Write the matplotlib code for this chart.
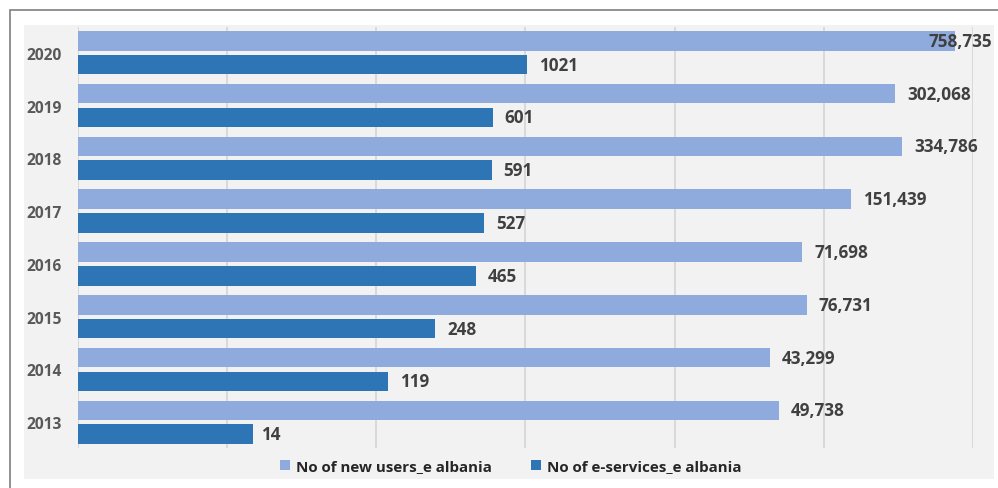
"""Horizontal grouped bar chart: e-Albania users and e-services per year (log scale)."""

import matplotlib.pyplot as plt
from matplotlib.patches import Rectangle
import numpy as np

years = ['2013', '2014', '2015', '2016', '2017', '2018', '2019', '2020']
new_users = [49738, 43299, 76731, 71698, 151439, 334786, 302068, 758735]
e_services = [14, 119, 248, 465, 527, 591, 601, 1021]

light_blue = '#8faadc'
dark_blue = '#2e75b6'
font = 'Open Sans'

W, H = 998, 489
fig = plt.figure(figsize=(W / 100, H / 100), dpi=100)

# outer frame and grey chart area (kept behind the axes)
fig.patches.append(Rectangle((10 / W, -0.1), 1, 1.1 - 11 / H, transform=fig.transFigure,
                             fill=False, edgecolor='#7f7f7f', linewidth=1.2,
                             zorder=-2))
fig.patches.append(Rectangle((24 / W, 1 - 480 / H), (994 - 24) / W, (480 - 26) / H,
                             transform=fig.transFigure, facecolor='#f2f2f2',
                             edgecolor='none', zorder=-1))

ax = fig.add_axes([78 / W, 1 - 449 / H, (973 - 78) / W, (449 - 28) / H])
ax.patch.set_alpha(0)

y = np.arange(len(years))
h = 0.37
off = 0.225
ax.barh(y + off, new_users, height=h, color=light_blue, left=1,
        label='No of new users_e albania', zorder=3)
ax.barh(y - off, e_services, height=h, color=dark_blue, left=1,
        label='No of e-services_e albania', zorder=3)

ax.set_xscale('log')
ax.set_xlim(1, 1e6)
ax.set_ylim(-0.49, len(years) - 0.51)
ax.set_xticks([1, 10, 100, 1e3, 1e4, 1e5, 1e6])
ax.set_xticklabels([])
ax.tick_params(axis='x', length=0)
ax.tick_params(axis='y', length=0, pad=11.5)
ax.minorticks_off()
ax.grid(axis='x', color='#d9d9d9', linewidth=1.4, zorder=0)
for s in ax.spines.values():
    s.set_visible(False)

ax.set_yticks(y)
ax.set_yticklabels(years, fontfamily=font, fontweight='bold', fontsize=11.2,
                   color='#595959')

# value labels
lbl = dict(fontfamily=font, fontweight='bold', fontsize=12.3, color='#404040',
           va='center', zorder=4)
for yi, v in zip(y, new_users):
    if v > 5e5:
        ax.annotate(f'{v:,}', xy=(1, yi + off), xycoords=('axes fraction', 'data'),
                    xytext=(19, 0), textcoords='offset pixels', ha='right', **lbl)
    else:
        ax.annotate(f'{v:,}', xy=(v, yi + off), xytext=(12, 0),
                    textcoords='offset pixels', ha='left', **lbl)
for yi, v in zip(y, e_services):
    ax.annotate(str(v), xy=(v, yi - off), xytext=(12, 0),
                textcoords='offset pixels', ha='left', **lbl)

leg = fig.legend(loc='center', bbox_to_anchor=(511 / W, 1 - 467 / H), ncol=2,
                 frameon=False, handlelength=0.65, handleheight=0.65,
                 handletextpad=0.4, columnspacing=2.6,
                 prop={'family': font, 'weight': 'bold', 'size': 10.9})
for t in leg.get_texts():
    t.set_color('#262626')

fig.savefig('out.png', dpi=100)
